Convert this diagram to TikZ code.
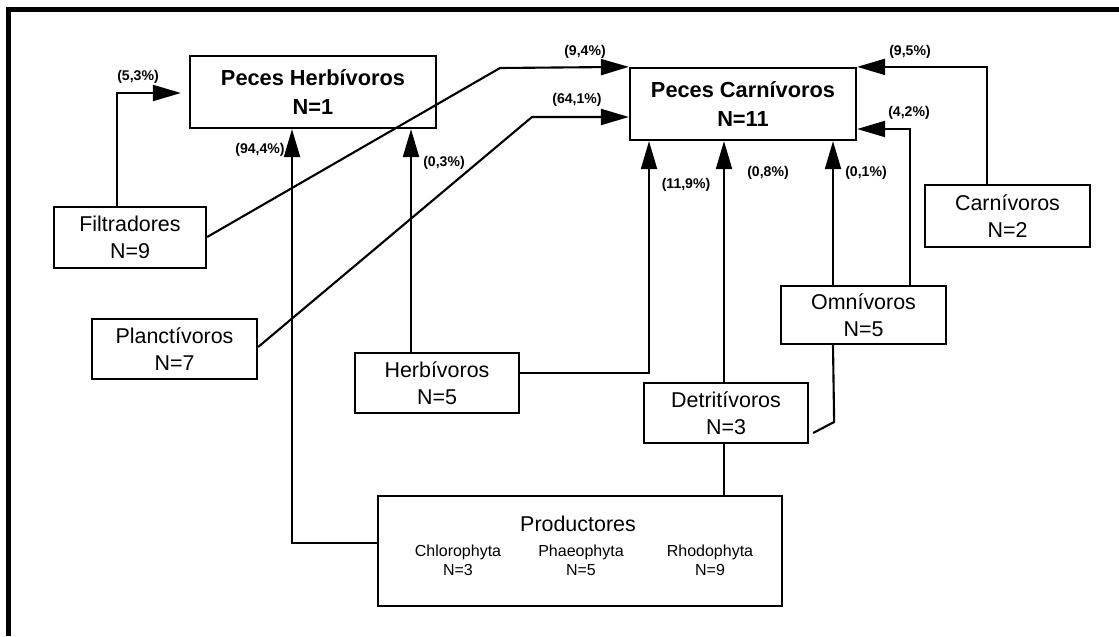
\documentclass[tikz,border=0pt]{standalone}
\usepackage{fontspec}
\setmainfont{Liberation Sans}
\usetikzlibrary{arrows.meta}

\begin{document}
\begin{tikzpicture}[x=0.02cm, y=-0.02cm,
    group/.style={draw, line width=1.3pt, minimum width=3.3cm, minimum height=1.2cm,
                  align=center, inner sep=0pt, font=\fontsize{12.2}{15.6}\selectfont},
    fish/.style={group, minimum height=1.44cm, font=\bfseries\fontsize{12.4}{16.4}\selectfont},
    alga/.style={align=center, inner sep=0pt, font=\fontsize{9.1}{10.8}\selectfont},
    pct/.style={inner sep=0pt, font=\bfseries\fontsize{8}{9}\selectfont},
    link/.style={line width=1.2pt},
    feeds/.style={link, -{Triangle[length=0.56cm, width=0.32cm]}}
]
    \useasboundingbox (0,0) rectangle (1119,636);
    \draw[line width=2.6pt] (8.5,636) -- (8.5,9.5) -- (1119,9.5);

    % fish groups
    \node[fish, minimum width=4.92cm] (ph) at (313,92) {Peces Herbívoros\\N=1};
    \node[fish, minimum width=4.52cm] (pc) at (743,104) {Peces Carnívoros\\N=11};

    % prey groups
    \node[group, minimum width=3.04cm, minimum height=1.22cm] (filt) at (130,237.5) {Filtradores\\N=9};
    \node[group] (planc) at (174.5,349) {Planctívoros\\N=7};
    \node[group, minimum width=3.28cm] (herb) at (437,383) {Herbívoros\\N=5};
    \node[group, minimum width=3.28cm] (det) at (726,413) {Detritívoros\\N=3};
    \node[group, minimum height=1.16cm] (omni) at (863.5,315) {Omnívoros\\N=5};
    \node[group, minimum height=1.24cm] (carn) at (1007.5,216) {Carnívoros\\N=2};

    % producers
    \node[group, minimum width=8.08cm, minimum height=2.2cm] (prod) at (580,551) {};
    \node[inner sep=0pt, font=\fontsize{12.2}{15.6}\selectfont] (prodname) at (578,524) {Productores};
    \node[alga] (chloro) at (458,560) {Chlorophyta\\N=3};
    \node[alga] (phaeo) at (581,560) {Phaeophyta\\N=5};
    \node[alga] (rhodo) at (710,560) {Rhodophyta\\N=9};

    % diet links
    \draw[feeds, shorten >=0.16cm] (filt.north -| 117,0) |- (ph.west |- 0,93);
    \draw[feeds] (filt.east |- 0,237) -- (500,68) -- (pc.north west);
    \draw[feeds] (planc.east |- 0,347) -- (532,117) -- (pc.west |- 0,117);
    \draw[feeds] (prod.west |- 0,543) -| (ph.south -| 292,0);
    \draw[feeds] (herb.north -| 411,0) -- (ph.south -| 411,0);
    \draw[feeds] (herb.east |- 0,373) -| (pc.south -| 649,0);
    \draw[feeds] (det.north -| 724,0) -- (pc.south -| 724,0);
    \draw[feeds] (omni.north -| 833,0) -- (pc.south -| 833,0);
    \draw[feeds] (omni.north -| 910,0) |- (pc.east |- 0,129);
    \draw[feeds] (carn.north -| 987,0) |- (pc.north east);
    \draw[link] (prod.north -| 724,0) -- (det.south -| 724,0);
    \draw[link] (det.east) ++(4,20) -- ++(21,-11) -- (omni.south -| 833,0);

    % percentages
    \node[pct] (p1) at (138,77) {(5,3\%)};
    \node[pct] (p2) at (585,52) {(9,4\%)};
    \node[pct] (p3) at (577,100) {(64,1\%)};
    \node[pct] (p4) at (260,150) {(94,4\%)};
    \node[pct] (p5) at (444,163) {(0,3\%)};
    \node[pct] (p6) at (686,185) {(11,9\%)};
    \node[pct] (p7) at (768,173) {(0,8\%)};
    \node[pct] (p8) at (866,173) {(0,1\%)};
    \node[pct] (p9) at (909,113) {(4,2\%)};
    \node[pct] (p10) at (910,52) {(9,5\%)};
\end{tikzpicture}
\end{document}
